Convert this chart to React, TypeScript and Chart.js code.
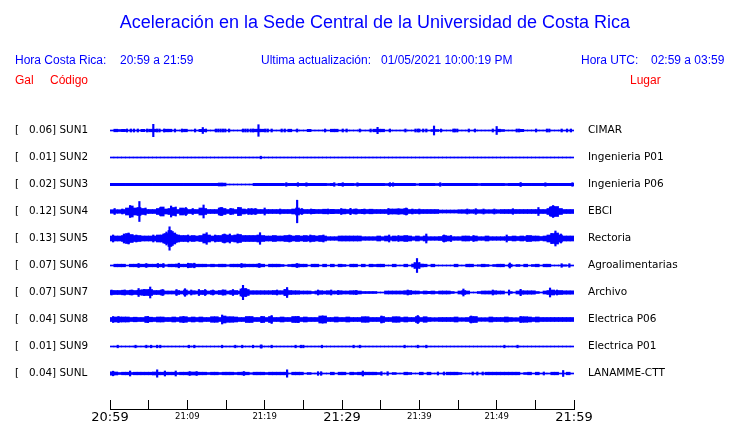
import { useEffect, useRef } from 'react';
import { Chart, registerables } from 'chart.js';

Chart.register(...registerables);

// ---- station info ----
const CODES = ['SUN1', 'SUN2', 'SUN3', 'SUN4', 'SUN5', 'SUN6', 'SUN7', 'SUN8', 'SUN9', 'SUNL'];
const PEAK_GAL = [0.06, 0.01, 0.02, 0.12, 0.13, 0.07, 0.07, 0.04, 0.01, 0.04];
const PLACES = ['CIMAR', 'Ingenieria P01', 'Ingenieria P06', 'EBCI', 'Rectoria', 'Agroalimentarias', 'Archivo', 'Electrica P06', 'Electrica P01', 'LANAMME-CTT'];
const TIME_LABELS = ['20:59', '21:09', '21:19', '21:29', '21:39', '21:49', '21:59'];
const MAJOR_LABELS = ['20:59', '21:29', '21:59'];

// ---- trace envelopes: half-amplitude per 30 s window (27 units = one trace spacing) ----
const SUN1_BAND = [
  0.5, 1.3, 1.0, 1.2, 0.5, 0.5, 0.5, 0.5, 1.2, 0.5,
  1.3, 1.3, 0.5, 0.5, 1.3, 1.3, 0.5, 0.5, 0.5, 1.3,
  0.5, 0.5, 0.5, 1.2, 1.2, 0.5, 0.5, 0.5, 0.5, 0.5,
  0.5, 0.5, 0.5, 0.5, 0.5, 0.5, 0.5, 1.3, 1.3, 1.3,
  0.5, 0.5, 0.5, 0.5, 0.5, 0.5, 1.3, 0.5, 0.5, 0.5,
  0.5, 1.2, 0.5, 0.5, 0.5, 0.5, 0.5, 1.3, 1.3, 0.5,
  0.5, 0.5, 0.5, 0.5, 0.5, 0.5, 0.5, 0.5, 1.3, 1.3,
  1.3, 0.5, 0.5, 0.5, 0.5, 0.5, 0.5, 0.5, 0.5, 0.5,
  0.5, 0.5, 0.5, 1.0, 1.0, 0.5, 0.5, 0.5, 0.5, 0.5,
  0.5, 0.5, 0.5, 0.5, 0.5, 0.5, 0.5, 0.5, 0.5, 0.5,
  1.3, 1.0, 0.5, 0.5, 0.5, 0.5, 1.2, 0.5, 0.5, 0.5,
  0.5, 0.5, 0.5, 0.5, 0.5, 0.5, 0.5, 0.5, 0.5, 0.5,
];
const SUN2_BAND = [
  0.5, 0.5, 0.5, 0.5, 0.5, 0.5, 0.5, 0.5, 0.5, 0.5,
  0.5, 0.5, 0.5, 0.5, 0.5, 0.5, 0.5, 0.5, 0.5, 0.5,
  0.5, 0.5, 0.5, 0.5, 0.5, 0.5, 0.5, 0.5, 0.5, 0.5,
  0.5, 0.5, 0.5, 0.5, 0.5, 0.5, 0.5, 0.5, 0.5, 0.5,
  0.5, 0.5, 0.5, 0.5, 0.5, 0.5, 0.5, 0.5, 0.5, 0.5,
  0.5, 0.5, 0.5, 0.5, 0.5, 0.5, 0.5, 0.5, 0.5, 0.5,
  0.5, 0.5, 0.5, 0.5, 0.5, 0.5, 0.5, 0.5, 0.5, 0.5,
  0.5, 0.5, 0.5, 0.5, 0.5, 0.5, 0.5, 0.5, 0.5, 0.5,
  0.5, 0.5, 0.5, 0.5, 0.5, 0.5, 0.5, 0.5, 0.5, 0.5,
  0.5, 0.5, 0.5, 0.5, 0.5, 0.5, 0.5, 0.5, 0.5, 0.5,
  0.5, 0.5, 0.5, 0.5, 0.5, 0.5, 0.5, 0.5, 0.5, 0.5,
  0.5, 0.5, 0.5, 0.5, 0.5, 0.5, 0.5, 0.5, 0.5, 0.5,
];
const SUN3_BAND = [
  1.2, 1.2, 1.2, 1.2, 1.2, 1.2, 1.2, 1.2, 1.2, 1.2,
  1.2, 1.2, 1.2, 1.2, 1.2, 1.2, 1.2, 1.2, 1.2, 1.2,
  1.2, 1.2, 1.2, 1.2, 1.2, 1.2, 1.2, 1.2, 1.5, 1.4,
  0.5, 0.5, 0.5, 0.5, 0.5, 0.5, 0.5, 1.2, 1.2, 1.2,
  1.2, 1.2, 1.2, 1.2, 1.2, 1.0, 1.2, 1.2, 1.2, 1.2,
  1.2, 1.2, 1.2, 1.2, 1.2, 1.2, 1.0, 1.2, 0.7, 1.2,
  1.2, 1.2, 1.2, 1.0, 1.2, 1.2, 1.2, 1.2, 1.2, 1.2,
  1.2, 1.0, 1.2, 1.2, 1.2, 1.2, 1.2, 1.2, 1.2, 0.8,
  1.2, 1.2, 1.2, 1.2, 1.0, 0.9, 1.2, 1.2, 1.2, 1.2,
  1.2, 1.2, 1.2, 1.2, 1.2, 1.0, 1.2, 1.2, 1.2, 1.2,
  1.2, 1.2, 1.0, 1.2, 1.2, 1.2, 1.2, 1.2, 1.2, 1.2,
  1.2, 1.2, 1.2, 1.2, 1.2, 1.2, 1.2, 1.2, 1.2, 1.2,
];
const SUN4_BAND = [
  1.8, 1.8, 1.8, 2.0, 3.5, 5.5, 3.5, 4.0, 3.0, 2.0,
  2.0, 2.0, 3.0, 4.5, 2.5, 3.0, 4.0, 2.0, 3.5, 3.0,
  2.0, 2.0, 2.0, 3.5, 3.0, 2.0, 2.0, 2.0, 3.5, 3.0,
  2.0, 2.8, 2.0, 4.0, 2.5, 2.0, 2.5, 2.5, 2.0, 2.0,
  2.0, 2.0, 2.0, 2.0, 2.0, 2.0, 2.0, 2.5, 3.5, 2.3,
  2.0, 2.0, 2.2, 2.0, 2.0, 2.3, 2.0, 2.2, 2.0, 2.0,
  2.4, 2.0, 2.0, 2.4, 2.0, 2.2, 2.0, 2.3, 2.0, 2.0,
  2.0, 2.0, 2.5, 2.5, 2.5, 2.5, 3.0, 2.0, 2.0, 2.0,
  2.0, 2.0, 2.0, 2.0, 2.0, 1.5, 1.5, 1.5, 1.5, 1.5,
  1.8, 1.8, 1.8, 1.8, 1.8, 1.8, 1.8, 1.8, 1.8, 1.8,
  1.8, 2.0, 2.0, 2.0, 2.0, 2.0, 2.0, 2.0, 2.0, 2.0,
  2.0, 2.0, 2.0, 3.0, 5.0, 5.0, 3.0, 2.0, 2.0, 2.0,
];
const SUN5_BAND = [
  2.5, 2.5, 2.5, 3.0, 5.0, 4.0, 3.0, 3.0, 2.5, 2.5,
  2.5, 2.5, 3.5, 3.5, 5.0, 8.0, 5.5, 3.5, 3.0, 3.0,
  2.5, 3.0, 2.5, 3.0, 4.5, 3.5, 2.5, 3.0, 3.0, 4.0,
  3.5, 3.0, 3.5, 4.0, 3.0, 3.0, 3.0, 3.0, 3.5, 3.0,
  2.5, 2.5, 3.0, 2.5, 2.5, 3.0, 3.0, 2.5, 3.0, 2.5,
  3.0, 2.5, 3.0, 2.5, 3.0, 2.5, 1.8, 1.8, 1.8, 2.5,
  2.5, 2.5, 2.5, 2.5, 2.5, 1.8, 1.8, 1.8, 1.8, 2.5,
  1.8, 2.5, 1.8, 2.5, 2.0, 2.5, 3.0, 2.5, 1.8, 2.5,
  1.8, 2.5, 1.8, 1.8, 1.8, 2.0, 3.0, 2.5, 1.8, 1.8,
  1.8, 2.5, 2.5, 2.0, 2.5, 1.8, 1.8, 2.5, 1.8, 1.8,
  1.8, 1.8, 1.8, 2.0, 2.5, 2.0, 2.5, 2.0, 3.0, 2.5,
  2.5, 2.0, 2.5, 3.5, 5.0, 5.5, 3.5, 2.5, 2.5, 2.5,
];
const SUN6_BAND = [
  0.5, 1.3, 1.3, 1.3, 0.5, 1.3, 1.3, 1.3, 1.3, 1.3,
  1.3, 1.3, 1.3, 1.3, 0.8, 1.3, 1.3, 1.5, 1.3, 1.3,
  2.0, 1.8, 1.3, 1.3, 1.3, 1.0, 1.3, 1.0, 1.3, 1.3,
  0.8, 1.3, 1.3, 1.3, 1.5, 1.3, 1.3, 1.3, 1.5, 1.3,
  0.5, 1.3, 1.3, 1.3, 1.0, 0.5, 1.0, 1.3, 1.5, 1.3,
  1.3, 0.5, 1.3, 1.3, 0.5, 1.3, 0.5, 1.3, 0.5, 1.3,
  1.0, 0.5, 1.3, 1.3, 0.5, 1.3, 0.5, 1.3, 1.0, 1.3,
  1.3, 0.5, 0.5, 1.3, 0.5, 0.5, 1.3, 0.5, 1.5, 2.5,
  1.5, 1.3, 0.5, 1.3, 0.5, 0.5, 0.5, 0.5, 0.5, 1.3,
  0.5, 0.5, 1.3, 1.3, 0.5, 0.8, 1.3, 1.0, 0.5, 1.0,
  1.3, 1.3, 0.5, 1.3, 0.5, 1.0, 0.5, 1.3, 0.5, 1.0,
  1.3, 0.5, 1.3, 1.3, 0.5, 0.5, 0.5, 0.8, 0.5, 0.5,
];
const SUN7_BAND = [
  2.0, 2.0, 2.0, 2.3, 2.0, 2.3, 2.0, 2.3, 2.8, 3.0,
  3.0, 2.0, 2.0, 2.5, 1.5, 1.5, 1.5, 2.0, 1.5, 2.5,
  1.5, 1.8, 1.5, 2.0, 2.0, 1.5, 2.0, 1.5, 2.0, 2.5,
  1.5, 2.0, 2.0, 1.5, 4.0, 3.0, 1.8, 1.8, 1.8, 1.8,
  1.8, 1.8, 2.0, 1.8, 1.8, 3.0, 2.0, 1.8, 1.8, 1.5,
  1.5, 1.5, 1.0, 1.5, 1.8, 1.5, 1.8, 1.5, 1.5, 1.8,
  1.5, 1.5, 1.8, 1.8, 1.5, 1.0, 1.0, 1.0, 1.0, 0.5,
  0.5, 1.5, 1.5, 1.5, 1.5, 1.5, 1.8, 2.0, 1.5, 1.5,
  1.0, 1.5, 1.2, 1.5, 1.0, 1.5, 1.5, 1.5, 1.0, 0.5,
  1.5, 2.0, 1.5, 0.5, 0.5, 1.0, 1.5, 1.5, 1.5, 1.8,
  1.5, 1.5, 0.5, 1.0, 0.5, 1.5, 1.8, 1.7, 1.7, 1.7,
  1.0, 0.5, 1.5, 2.0, 2.5, 1.7, 2.0, 1.7, 1.7, 1.7,
];
const SUN8_BAND = [
  2.0, 2.5, 2.5, 2.5, 2.5, 2.0, 2.3, 2.0, 2.0, 3.0,
  2.3, 2.0, 2.5, 2.5, 2.0, 2.0, 2.5, 2.0, 2.8, 2.8,
  2.0, 2.5, 2.0, 2.5, 2.0, 2.0, 2.8, 2.8, 2.0, 3.5,
  2.8, 2.8, 2.5, 2.0, 2.0, 3.0, 3.0, 2.0, 2.0, 3.0,
  2.0, 3.0, 2.0, 2.0, 2.5, 2.0, 2.0, 3.0, 3.0, 2.0,
  2.5, 2.0, 2.0, 2.0, 3.5, 3.5, 2.0, 2.0, 2.5, 2.0,
  2.0, 2.5, 2.0, 2.0, 2.0, 2.8, 2.8, 2.0, 2.0, 2.0,
  3.0, 2.0, 2.0, 2.8, 2.8, 2.0, 2.5, 2.0, 2.0, 3.0,
  2.0, 2.8, 2.0, 1.8, 1.8, 2.0, 2.0, 2.0, 2.0, 2.5,
  1.8, 1.8, 2.0, 3.0, 3.0, 1.8, 1.8, 1.8, 2.5, 2.0,
  2.0, 2.0, 2.5, 2.0, 1.8, 1.8, 2.8, 2.8, 2.5, 2.0,
  2.5, 2.0, 2.0, 2.0, 2.0, 2.0, 2.0, 2.0, 2.0, 2.0,
];
const SUN9_BAND = [
  0.5, 0.5, 0.5, 0.5, 0.5, 0.5, 0.5, 0.5, 0.5, 0.5,
  0.5, 0.5, 0.5, 0.5, 0.5, 0.5, 0.5, 0.5, 0.5, 0.5,
  0.5, 0.5, 0.5, 0.5, 0.5, 0.5, 0.5, 0.5, 0.5, 0.5,
  0.5, 0.5, 0.5, 0.5, 0.5, 0.5, 0.5, 0.5, 0.5, 0.5,
  0.5, 0.5, 0.5, 0.5, 0.5, 0.5, 0.5, 0.5, 0.5, 0.5,
  0.5, 0.5, 0.5, 0.5, 0.5, 0.5, 0.5, 0.5, 0.5, 0.5,
  0.5, 0.5, 0.5, 0.5, 0.5, 0.5, 0.5, 0.5, 0.5, 0.5,
  0.5, 0.5, 0.5, 0.5, 0.5, 0.5, 0.5, 0.5, 0.5, 0.5,
  0.5, 0.5, 0.5, 0.5, 0.5, 0.5, 0.5, 0.5, 0.5, 0.5,
  0.5, 0.5, 0.5, 0.5, 0.5, 0.5, 0.5, 0.5, 0.5, 0.5,
  0.5, 0.5, 0.5, 0.5, 0.5, 0.5, 0.5, 0.5, 0.5, 0.5,
  0.5, 0.5, 0.5, 0.5, 0.5, 0.5, 0.5, 0.5, 0.5, 0.5,
];
const SUNL_BAND = [
  1.7, 1.5, 1.0, 1.3, 1.3, 1.0, 1.3, 1.3, 1.3, 1.3,
  1.3, 1.5, 1.3, 1.3, 1.3, 1.3, 1.3, 1.0, 1.3, 1.3,
  1.3, 1.5, 1.3, 1.3, 1.3, 1.0, 1.3, 1.3, 1.0, 1.3,
  1.3, 1.3, 1.0, 1.3, 1.3, 1.3, 0.8, 1.3, 1.3, 1.3,
  1.0, 1.3, 1.3, 1.3, 1.3, 1.3, 0.5, 1.3, 1.3, 1.3,
  0.5, 1.0, 0.5, 0.5, 0.5, 0.5, 0.5, 1.3, 0.5, 1.3,
  1.3, 0.5, 1.3, 1.0, 1.3, 1.3, 1.3, 1.3, 1.3, 1.0,
  0.5, 0.5, 0.5, 1.0, 0.5, 0.5, 1.3, 1.0, 0.5, 0.5,
  1.3, 0.5, 1.3, 0.5, 0.5, 0.5, 0.5, 1.3, 1.3, 1.3,
  1.0, 0.5, 0.5, 0.5, 0.5, 0.5, 0.5, 1.3, 1.3, 1.3,
  1.3, 1.3, 1.3, 1.3, 1.3, 1.3, 0.5, 1.0, 1.3, 0.5,
  1.3, 0.5, 0.5, 0.5, 1.3, 1.3, 0.5, 0.5, 1.3, 0.5,
];

// ---- individual peaks: [minute after 20:59, half-amplitude] ----
const SUN1_SPIKES = [[2.2, 1.5], [2.7, 1.5], [3.1, 1.5], [3.6, 1.5], [4.8, 1.5], [5.6, 6.2], [6.1, 1.5], [6.4, 1.5], [7.0, 1.5], [8.4, 1.5], [9.3, 1.5], [11.0, 1.5], [12.0, 3.0], [12.4, 1.5], [13.7, 1.5], [14.0, 1.5], [14.3, 1.5], [14.6, 1.5], [14.9, 1.5], [15.4, 1.5], [17.2, 1.5], [17.5, 1.5], [17.8, 1.5], [18.2, 1.5], [18.5, 1.5], [19.2, 5.8], [20.1, 1.5], [20.4, 1.5], [20.9, 1.5], [22.2, 1.5], [22.6, 1.5], [24.2, 1.5], [27.8, 1.5], [30.1, 1.5], [30.6, 1.5], [32.3, 1.5], [33.7, 1.5], [34.6, 3.2], [36.2, 1.5], [38.2, 1.5], [39.5, 1.5], [39.8, 1.5], [40.0, 1.5], [40.5, 1.5], [40.9, 1.5], [41.9, 4.5], [42.8, 1.5], [44.4, 1.5], [44.6, 1.5], [44.9, 1.5], [46.4, 1.5], [47.2, 1.5], [49.5, 1.5], [50.0, 4.0], [52.6, 1.5], [52.9, 1.5], [55.1, 1.5], [56.5, 1.5], [56.8, 1.5], [58.4, 1.5], [59.1, 1.5], [59.6, 1.5]];
const SUN2_SPIKES = [[19.5, 1.3]];
const SUN3_SPIKES = [[22.8, 1.8], [24.3, 1.8], [25.4, 1.7], [29.0, 1.8], [30.1, 1.8], [32.0, 1.7], [36.2, 1.8], [36.6, 1.7], [42.7, 1.8], [53.1, 2.0], [56.3, 1.7], [59.8, 1.8]];
const SUN4_SPIKES = [[0.6, 3.0], [1.6, 2.5], [2.6, 6.0], [3.8, 10.0], [4.6, 3.5], [6.5, 4.0], [7.9, 5.5], [8.5, 4.5], [9.8, 4.0], [10.7, 3.0], [12.1, 6.5], [14.3, 4.0], [14.5, 4.0], [15.6, 3.0], [16.6, 4.0], [17.9, 3.0], [18.3, 3.0], [18.8, 3.0], [20.0, 3.5], [22.0, 2.5], [24.2, 11.3], [24.8, 3.0], [26.0, 2.5], [28.2, 2.5], [29.9, 3.0], [31.1, 3.2], [31.8, 2.5], [32.9, 2.5], [36.0, 3.0], [37.3, 2.8], [38.3, 3.5], [39.1, 2.5], [40.0, 2.5], [46.2, 2.5], [47.3, 2.8], [48.3, 2.5], [49.7, 2.5], [52.1, 2.8], [55.4, 4.0], [56.9, 4.5], [57.3, 6.0]];
const SUN5_SPIKES = [[0.4, 3.5], [1.8, 4.5], [2.4, 5.5], [3.4, 3.5], [5.6, 3.5], [6.9, 4.5], [7.3, 6.5], [7.7, 11.7], [8.1, 7.0], [8.6, 4.0], [10.1, 3.5], [12.5, 5.8], [13.6, 3.5], [14.8, 4.5], [15.5, 4.5], [16.5, 4.5], [19.4, 5.8], [23.2, 3.5], [25.9, 3.5], [27.6, 3.5], [36.1, 3.5], [37.3, 3.0], [40.9, 4.5], [43.2, 3.5], [44.1, 3.0], [47.0, 3.0], [51.3, 3.5], [53.9, 3.0], [57.1, 5.0], [57.6, 7.5], [58.3, 4.5]];
const SUN6_SPIKES = [[3.7, 2.0], [4.7, 2.0], [6.2, 2.0], [6.9, 2.0], [8.9, 2.3], [10.1, 2.3], [10.9, 2.3], [17.0, 2.0], [19.3, 2.0], [24.2, 2.0], [39.4, 3.0], [39.7, 7.0], [40.0, 3.0], [51.7, 2.5], [58.4, 1.8], [59.4, 1.8]];
const SUN7_SPIKES = [[0.2, 2.5], [1.9, 2.5], [2.8, 2.5], [3.7, 4.0], [4.4, 3.0], [5.2, 5.5], [6.8, 3.0], [8.6, 3.0], [9.7, 3.8], [10.5, 2.5], [11.5, 3.0], [12.3, 3.0], [13.3, 2.5], [14.6, 2.5], [15.9, 3.0], [16.9, 3.5], [17.2, 7.2], [17.6, 4.0], [21.6, 2.5], [22.6, 3.0], [22.9, 5.0], [26.9, 2.5], [28.6, 2.5], [29.5, 2.0], [31.8, 2.0], [38.5, 2.5], [45.7, 3.5], [49.5, 2.5], [51.6, 2.5], [53.1, 3.2], [56.9, 4.5], [57.8, 2.5]];
const SUN8_SPIKES = [[0.4, 3.0], [1.1, 3.0], [4.9, 3.0], [9.5, 3.0], [14.5, 4.5], [19.6, 3.0], [20.9, 4.0], [24.3, 3.0], [27.5, 3.5], [35.1, 3.5], [39.8, 4.0], [46.7, 3.5], [53.1, 3.0]];
const SUN9_SPIKES = [[1.0, 1.3], [3.3, 1.3], [4.7, 1.3], [5.3, 1.3], [6.1, 1.3], [6.5, 1.3], [10.2, 1.3], [10.9, 1.3], [14.5, 1.3], [16.2, 1.3], [17.1, 1.3], [18.5, 1.3], [19.5, 1.5], [19.6, 1.5], [20.9, 1.3], [24.0, 1.3], [24.7, 1.3], [25.0, 1.3], [27.4, 1.3], [31.5, 1.3], [32.3, 1.3], [38.1, 1.3], [39.8, 1.3], [40.9, 1.3], [51.0, 1.3], [52.7, 1.3]];
const SUNL_SPIKES = [[0.4, 2.3], [2.6, 2.5], [6.1, 3.7], [7.1, 2.5], [8.5, 2.5], [10.3, 2.0], [11.2, 2.0], [17.3, 2.0], [22.9, 3.7], [26.9, 1.8], [27.3, 1.8], [32.7, 2.5], [35.1, 1.8], [35.9, 1.8], [42.4, 1.5], [43.2, 1.5], [46.9, 1.5], [47.5, 1.5], [48.2, 1.5], [56.1, 1.5], [58.6, 3.0]];

const BANDS = [SUN1_BAND, SUN2_BAND, SUN3_BAND, SUN4_BAND, SUN5_BAND, SUN6_BAND, SUN7_BAND, SUN8_BAND, SUN9_BAND, SUNL_BAND];
const SPIKES = [SUN1_SPIKES, SUN2_SPIKES, SUN3_SPIKES, SUN4_SPIKES, SUN5_SPIKES, SUN6_SPIKES, SUN7_SPIKES, SUN8_SPIKES, SUN9_SPIKES, SUNL_SPIKES];

const WINDOW_MIN = 0.5;
const TRACE_UNITS = 27;
const BLUE = '#0000ff';
const RED = '#ff0000';

function buildDatasets() {
  const out: any[] = [];
  BANDS.forEach((band, row) => {
    out.push({
      type: 'bar',
      data: band.map((a, i) => ({ x: i * WINDOW_MIN + WINDOW_MIN / 2, y: [row - a / TRACE_UNITS, row + a / TRACE_UNITS] })),
      backgroundColor: BLUE,
      borderWidth: 0,
      barThickness: 4,
      grouped: false,
      xAxisID: 'x',
      yAxisID: 'y',
    });
    out.push({
      type: 'bar',
      data: SPIKES[row].map(([m, a]) => ({ x: m, y: [row - a / TRACE_UNITS, row + a / TRACE_UNITS] })),
      backgroundColor: BLUE,
      borderWidth: 0,
      barThickness: 1.5,
      grouped: false,
      xAxisID: 'x',
      yAxisID: 'y',
    });
  });
  return out;
}

const Y_MIN = -27.5 / 27;
const Y_MAX = 278.5 / 27;

function TraceChart() {
  const ref = useRef<HTMLCanvasElement | null>(null);
  useEffect(() => {
    if (!ref.current) return;
    const chart = new Chart(ref.current, {
      type: 'bar',
      data: { datasets: buildDatasets() },
      options: {
        responsive: false,
        animation: false,
        devicePixelRatio: 1,
        layout: { padding: { top: 103, left: 15, right: 0, bottom: 0 } },
        plugins: { legend: { display: false }, tooltip: { enabled: false }, title: { display: false } },
        scales: {
          x: {
            type: 'linear',
            position: 'bottom',
            min: 0,
            max: 60,
            offset: false,
            afterFit: (s: any) => { s.height = 14; },
            grid: { offset: false, drawOnChartArea: false, drawTicks: true, tickLength: -9, color: '#000000', lineWidth: 1 },
            border: { display: true, color: '#000000', width: 1 },
            ticks: {
              stepSize: 5,
              autoSkip: false,
              maxRotation: 0,
              minRotation: 0,
              padding: 10,
              color: '#000000',
              font: (ctx: any) => {
                const v = ctx.tick ? ctx.tick.value : 0;
                const lbl = v % 10 === 0 ? TIME_LABELS[v / 10] : '';
                return MAJOR_LABELS.includes(lbl)
                  ? { family: 'DejaVu Sans', size: 13, lineHeight: 1.2 }
                  : { family: 'DejaVu Sans', size: 8.5, lineHeight: 1.6 };
              },
              callback: (v: any) => (Number(v) % 10 === 0 ? TIME_LABELS[Number(v) / 10] : ''),
            },
          },
          y: {
            type: 'linear',
            position: 'left',
            reverse: true,
            min: Y_MIN,
            max: Y_MAX,
            afterFit: (s: any) => { s.width = 95; },
            afterBuildTicks: (s: any) => { s.ticks = CODES.map((_, i) => ({ value: i })); },
            grid: { display: false, drawTicks: false },
            border: { display: false },
            ticks: {
              crossAlign: 'far',
              padding: 0,
              color: '#000000',
              autoSkip: false,
              font: { family: 'DejaVu Sans', size: 10.4 },
              callback: (v: any) => `[   ${PEAK_GAL[Number(v)].toFixed(2)}] ${CODES[Number(v)]}`,
            },
          },
          y2: {
            type: 'linear',
            position: 'right',
            reverse: true,
            min: Y_MIN,
            max: Y_MAX,
            afterFit: (s: any) => { s.width = 166; },
            afterBuildTicks: (s: any) => { s.ticks = PLACES.map((_, i) => ({ value: i })); },
            grid: { display: true, drawOnChartArea: false, drawTicks: true, tickLength: 14, color: 'rgba(0,0,0,0)' },
            border: { display: false },
            ticks: {
              crossAlign: 'near',
              padding: 0,
              color: '#000000',
              autoSkip: false,
              font: { family: 'DejaVu Sans', size: 10.5 },
              callback: (v: any) => PLACES[Number(v)],
            },
          },
        },
      } as any,
    });
    return () => chart.destroy();
  }, []);
  return <canvas ref={ref} width={740} height={423} style={{ position: 'absolute', left: 0, top: 0, display: 'block' }} />;
}

const txt = (left: number, top: number, size: number, color: string): any => ({
  position: 'absolute',
  left,
  top,
  fontFamily: '"Liberation Sans", Arial, sans-serif',
  fontSize: size,
  lineHeight: `${size}px`,
  color,
  whiteSpace: 'pre',
});

export default function App() {
  return (
    <div style={{ position: 'absolute', left: 0, top: 0, width: 740, height: 423, background: '#ffffff', overflow: 'hidden' }}>
      <TraceChart />
      <div style={{ ...txt(0, 13, 18, BLUE), width: 750, textAlign: 'center' }}>
        Aceleración en la Sede Central de la Universidad de Costa Rica
      </div>
      <span style={txt(15, 54, 12, BLUE)}>Hora Costa Rica:</span>
      <span style={txt(120, 54, 12, BLUE)}>20:59 a 21:59</span>
      <span style={txt(261, 54, 12, BLUE)}>Ultima actualización:</span>
      <span style={txt(381, 54, 12, BLUE)}>01/05/2021 10:00:19 PM</span>
      <span style={txt(581, 54, 12, BLUE)}>Hora UTC:</span>
      <span style={txt(651, 54, 12, BLUE)}>02:59 a 03:59</span>
      <span style={txt(15, 74, 12, RED)}>Gal</span>
      <span style={txt(50, 74, 12, RED)}>Código</span>
      <span style={txt(630, 74, 12, RED)}>Lugar</span>
    </div>
  );
}
